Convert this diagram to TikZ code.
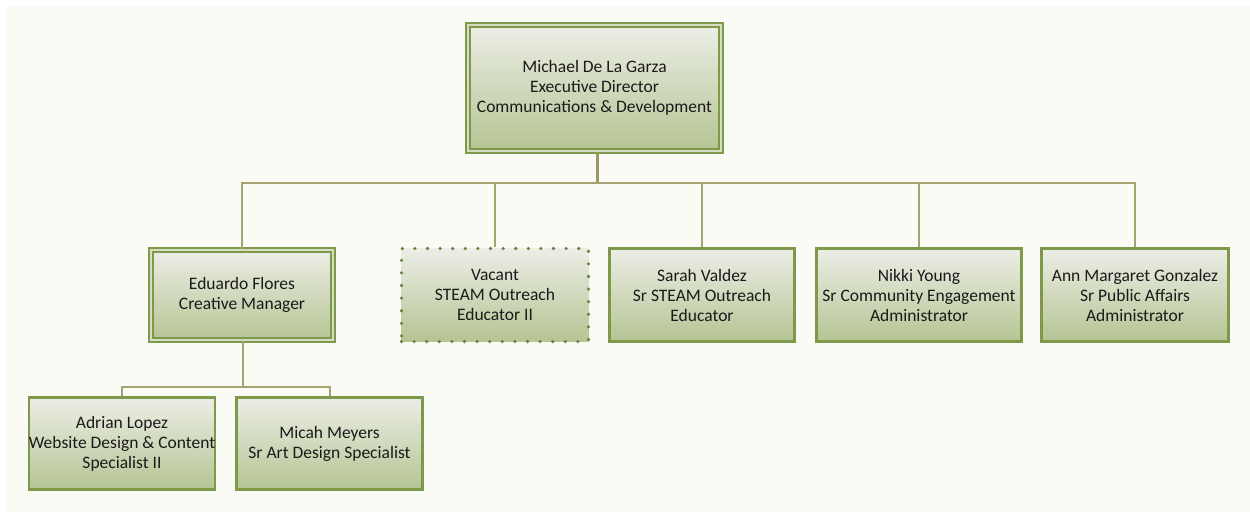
\documentclass[tikz,border=0pt]{standalone}
\usepackage{fontspec}
\setmainfont{Carlito}
\begin{document}
\definecolor{pagebg}{HTML}{FBFBF6}
\definecolor{boxline}{HTML}{7F994A}
\definecolor{boxtop}{HTML}{ECEEE6}
\definecolor{boxbot}{HTML}{B5C493}
\definecolor{wire}{HTML}{A6A272}
\definecolor{wiredark}{HTML}{9C9864}
\definecolor{txt}{HTML}{1A1A1A}
\begin{tikzpicture}[x=1pt,y=-1pt,
  card/.style={rectangle, draw=boxline, line width=2.4pt,
    top color=boxtop, bottom color=boxbot, text=txt, align=center,
    inner sep=0pt, font=\fontsize{17.5}{20}\selectfont},
  leadcard/.style={card, line width=2.2pt, double=boxtop!60!boxbot, double distance=1.5pt},
  opencard/.style={card, draw=boxline!85!black, line width=3.6pt, line cap=round,
    dash pattern=on 0pt off 12.6pt},
  conn/.style={draw=wire, line width=2pt},
  trunk/.style={draw=wiredark, line width=3pt}]
\useasboundingbox (0,0) rectangle (1250,512);
\fill[white] (0,0) rectangle (1250,512);
\fill[pagebg] (7,6) rectangle (1250,512);

% junction points of the reporting lines
\coordinate (tj) at (597,183);
\coordinate (ej) at (243,387);

% director
\node[leadcard, minimum width=253pt, minimum height=126pt] (top) at (594.5,88)
  {Michael De La Garza\\Executive Director\\Communications \& Development};

% direct reports
\node[leadcard, minimum width=182pt, minimum height=90pt] (edu) at (242,295)
  {Eduardo Flores\\Creative Manager};
\node[opencard, minimum width=187pt, minimum height=93pt] (vac) at (495,295)
  {Vacant\\STEAM Outreach\\Educator II};
\node[card, minimum width=185pt, minimum height=93pt] (sar) at (702,295)
  {Sarah Valdez\\Sr STEAM Outreach\\Educator};
\node[card, minimum width=205pt, minimum height=93pt] (nik) at (919,295)
  {Nikki Young\\Sr Community Engagement\\Administrator};
\node[card, minimum width=187pt, minimum height=93pt] (ann) at (1135,295)
  {Ann Margaret Gonzalez\\Sr Public Affairs\\Administrator};

% creative team
\node[card, minimum width=185pt, minimum height=92pt] (adr) at (122,443.5)
  {Adrian Lopez\\Website Design \& Content\\Specialist II};
\node[card, minimum width=186pt, minimum height=92pt] (mic) at (329.5,443.5)
  {Micah Meyers\\Sr Art Design Specialist};

% reporting lines
\draw[trunk] (top.south -| tj) -- (tj);
\foreach \c in {edu,vac,sar,nik,ann}
  \draw[conn] (tj) -| (\c.north);
\draw[conn] (edu.south -| ej) -- (ej);
\foreach \c in {adr,mic}
  \draw[conn] (ej) -| (\c.north);
\end{tikzpicture}
\end{document}
